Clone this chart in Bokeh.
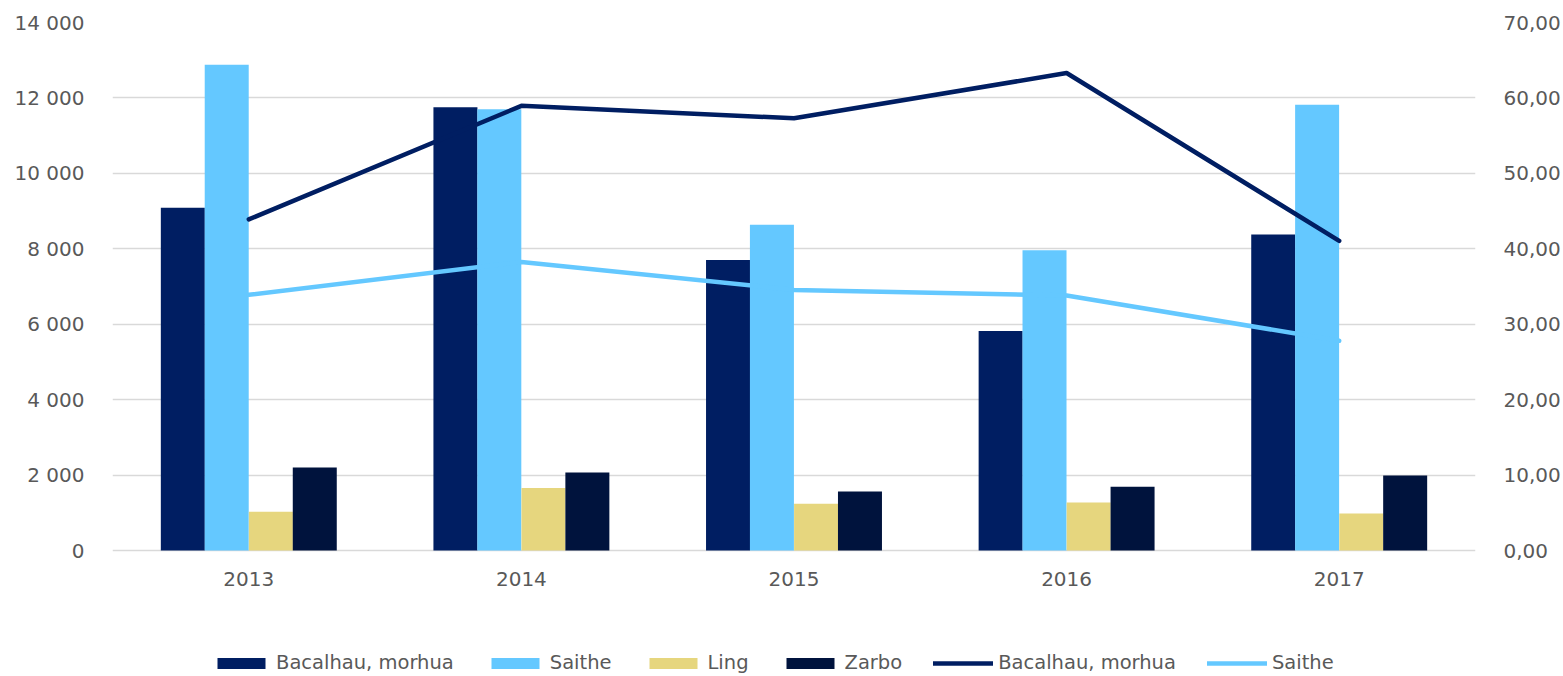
from bokeh.plotting import figure
from bokeh.models import (FactorRange, Range1d, LinearAxis, FixedTicker, Legend, LegendItem,
                          ColumnDataSource)
from bokeh.transform import dodge
from bokeh.embed import file_html
from bokeh.resources import INLINE

years = ["2013", "2014", "2015", "2016", "2017"]
bacalhau_qty = [9090, 11750, 7700, 5820, 8380]
saithe_qty = [12880, 11700, 8640, 7960, 11820]
ling_qty = [1025, 1660, 1240, 1275, 980]
zarbo_qty = [2200, 2070, 1565, 1690, 1990]
bacalhau_price = [43.9, 58.95, 57.3, 63.3, 41.05]
saithe_price = [33.9, 38.25, 34.55, 33.8, 27.8]

left_ticks = [0, 2000, 4000, 6000, 8000, 10000, 12000, 14000]
left_labels = ["0", "2 000", "4 000", "6 000", "8 000", "10 000", "12 000", "14 000"]
right_ticks = [0, 10, 20, 30, 40, 50, 60, 70]
right_labels = ["0,00", "10,00", "20,00", "30,00", "40,00", "50,00", "60,00", "70,00"]

C_BAC = "#001E62"
C_SAI = "#64C8FF"
C_LING = "#E6D67E"
C_ZAR = "#00133D"
TXT = "#595959"
FONT = "DejaVu Sans"

# frame runs to the bottom of the canvas; the space below zero holds the x labels and legend
below_frac = 126 / 528
p = figure(x_range=FactorRange(*years),
           y_range=Range1d(-14000 * below_frac, 14000),
           width=1563, height=676, output_backend="svg", toolbar_location=None,
           min_border_left=112, min_border_right=88, min_border_top=22, min_border_bottom=0)
p.extra_y_ranges = {"right": Range1d(-70 * below_frac, 70)}
p.outline_line_color = None
p.background_fill_color = "white"
p.border_fill_color = "white"

source = ColumnDataSource(dict(x=years, bac=bacalhau_qty, sai=saithe_qty, ling=ling_qty,
                               zar=zarbo_qty, bp=bacalhau_price, sp=saithe_price))

p.ygrid.ticker = FixedTicker(ticks=left_ticks)
p.ygrid.grid_line_color = "#D9D9D9"
p.ygrid.grid_line_width = 1.5
p.xgrid.grid_line_color = None

w = 0.1614
r1 = p.vbar(x=dodge("x", -0.242, range=p.x_range), top="bac", bottom=0, width=w, source=source,
            fill_color=C_BAC, line_color=None)
r2 = p.vbar(x=dodge("x", -0.081, range=p.x_range), top="sai", bottom=0, width=w, source=source,
            fill_color=C_SAI, line_color=None)
r3 = p.vbar(x=dodge("x", 0.081, range=p.x_range), top="ling", bottom=0, width=w, source=source,
            fill_color=C_LING, line_color=None)
r4 = p.vbar(x=dodge("x", 0.242, range=p.x_range), top="zar", bottom=0, width=w, source=source,
            fill_color=C_ZAR, line_color=None)
r5 = p.line(x="x", y="bp", source=source, y_range_name="right", line_color=C_BAC,
            line_width=4.5, line_cap="round", line_join="round")
r6 = p.line(x="x", y="sp", source=source, y_range_name="right", line_color=C_SAI,
            line_width=4.5, line_cap="round", line_join="round")

def style_axis(ax, standoff):
    ax.axis_line_color = None
    ax.major_tick_line_color = None
    ax.minor_tick_line_color = None
    ax.major_label_standoff = standoff
    ax.major_label_text_font = FONT
    ax.major_label_text_font_size = "20px"
    ax.major_label_text_color = TXT

ya = p.yaxis[0]
ya.ticker = FixedTicker(ticks=left_ticks)
ya.major_label_overrides = {t: l for t, l in zip(left_ticks, left_labels)}
style_axis(ya, 22)

ra = LinearAxis(y_range_name="right", ticker=FixedTicker(ticks=right_ticks))
ra.major_label_overrides = {t: l for t, l in zip(right_ticks, right_labels)}
style_axis(ra, 22)
p.add_layout(ra, "right")

xa = p.xaxis[0]
xa.fixed_location = 0
style_axis(xa, 15)

legend = Legend(items=[
    LegendItem(label="Bacalhau, morhua", renderers=[r1]),
    LegendItem(label="Saithe", renderers=[r2]),
    LegendItem(label="Ling", renderers=[r3]),
    LegendItem(label="Zarbo", renderers=[r4]),
    LegendItem(label="Bacalhau, morhua", renderers=[r5]),
    LegendItem(label="Saithe", renderers=[r6]),
], orientation="horizontal", location=(99, 2))
legend.border_line_color = None
legend.background_fill_alpha = 0
legend.padding = 0
legend.margin = 0
legend.spacing = 31
legend.glyph_width = 60
legend.glyph_height = 14
legend.label_standoff = 5
legend.label_height = 20
legend.label_text_font = FONT
legend.label_text_font_size = "19.5px"
legend.label_text_color = TXT
legend.label_text_baseline = "middle"
p.add_layout(legend, "center")

open("out.html", "w").write(file_html(p, INLINE))
